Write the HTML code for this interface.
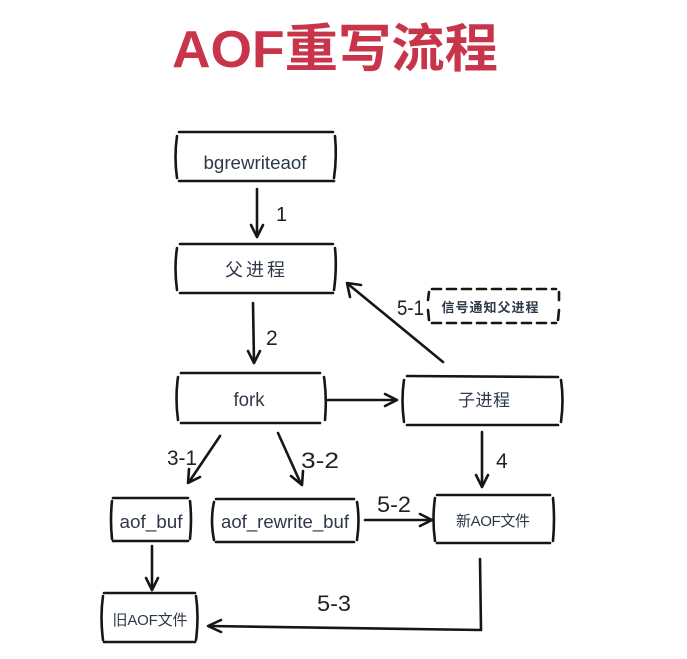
<!DOCTYPE html>
<html><head><meta charset="utf-8"><style>
html,body{margin:0;padding:0;background:#fff;}
svg{display:block;}
.t{font-family:"Liberation Sans","Noto Sans CJK SC",sans-serif;fill:#2e3848;}
.n{font-family:"Liberation Sans",sans-serif;fill:#222;}
</style></head><body>
<svg width="687" height="659" viewBox="0 0 687 659" xmlns="http://www.w3.org/2000/svg">
<text x="172" y="67" font-family="'Liberation Sans','Noto Sans CJK SC',sans-serif" font-weight="bold" font-size="52" fill="#c8344a" textLength="326" lengthAdjust="spacingAndGlyphs">AOF重写流程</text>
<g fill="none" stroke="#161616" stroke-width="2.6" stroke-linecap="round" stroke-linejoin="round">
<!-- bgrewriteaof box -->
<path d="M179 132 L333 132"/><path d="M179 181 L334 181"/>
<path d="M177 136 Q174 157 177 178"/><path d="M335 136 Q337 157 334 178"/>
<!-- 父进程 box -->
<path d="M180 244 L333 244"/><path d="M180 293 L333 293"/>
<path d="M177 248 Q174 268 177 290"/><path d="M335 248 Q337 268 334 290"/>
<!-- fork box -->
<path d="M181 373 L320 373"/><path d="M181 423 L320 423"/>
<path d="M178 377 Q175 398 178 420"/><path d="M324 377 Q327 398 325 420"/>
<!-- 子进程 box -->
<path d="M407 376 L558 377"/><path d="M407 425 L558 425"/>
<path d="M404 380 Q401 400 404 422"/><path d="M561 380 Q564 400 561 422"/>
<!-- aof_buf box -->
<path d="M113 498 L188 498"/><path d="M113 541 L188 541"/>
<path d="M112 501 Q110 520 112 539"/><path d="M190 501 Q192 520 190 539"/>
<!-- aof_rewrite_buf box -->
<path d="M216 499 L354 499"/><path d="M216 542 L354 542"/>
<path d="M214 502 Q210 520 214 540"/><path d="M357 502 Q360 520 357 540"/>
<!-- 新AOF文件 box -->
<path d="M437 495 L550 495"/><path d="M437 543 L550 543"/>
<path d="M435 498 Q432 519 435 541"/><path d="M553 498 Q555 519 553 541"/>
<!-- 旧AOF文件 box -->
<path d="M104 593 L195 593"/><path d="M104 642 L195 642"/>
<path d="M103 596 Q100 617 103 640"/><path d="M196 596 Q199 617 196 640"/>
<!-- dashed box -->
<path d="M432 289 L556 289" stroke-dasharray="9 6"/>
<path d="M432 323 L556 323" stroke-dasharray="9 6"/>
<path d="M429 292 L428 300 M428 310 L429 320"/>
<path d="M559 292 L559 300 M559 310 L558 320"/>
<!-- arrow 1 -->
<path d="M257 189 L257 236"/><path d="M251 225 L257 237 L263 225"/>
<!-- arrow 2 -->
<path d="M253 303 L254 362"/><path d="M248 351 L254 363 L260 351"/>
<!-- fork -> 子进程 -->
<path d="M328 400 L396 400"/><path d="M385 394 L397 400 L385 406"/>
<!-- 5-1 -->
<path d="M443 362 L348 284"/><path d="M350 297 L347 283 L361 285"/>
<!-- 3-1 -->
<path d="M220 436 L189 482"/><path d="M189 469 L188 483 L200 477"/>
<!-- 3-2 -->
<path d="M278 433 L301 484"/><path d="M291 476 L302 485 L303 471"/>
<!-- 4 -->
<path d="M482 432 L482 486"/><path d="M476 475 L482 487 L488 475"/>
<!-- 5-2 -->
<path d="M365 520 L431 520"/><path d="M420 514 L432 520 L420 526"/>
<!-- aof_buf -> 旧 -->
<path d="M152 546 L152 589"/><path d="M146 578 L152 590 L158 578"/>
<!-- 5-3 -->
<path d="M480 559 L481 630 L209 626"/><path d="M221 620 L208 626 L221 632"/>
</g>
<text class="t" x="255" y="169" font-size="18" text-anchor="middle" textLength="103" lengthAdjust="spacingAndGlyphs">bgrewriteaof</text>
<text class="t" x="255" y="276" font-size="18" text-anchor="middle" textLength="60" lengthAdjust="spacing">父进程</text>
<text class="t" x="249" y="406" font-size="19" text-anchor="middle" textLength="31" lengthAdjust="spacingAndGlyphs">fork</text>
<text class="t" x="484" y="406" font-size="17" text-anchor="middle" textLength="52" lengthAdjust="spacing">子进程</text>
<text class="t" x="490" y="312" font-size="13" font-weight="bold" text-anchor="middle" textLength="97" lengthAdjust="spacing">信号通知父进程</text>
<text class="t" x="151" y="528" font-size="18" text-anchor="middle" textLength="63" lengthAdjust="spacingAndGlyphs">aof_buf</text>
<text class="t" x="285" y="528" font-size="18" text-anchor="middle" textLength="128" lengthAdjust="spacingAndGlyphs">aof_rewrite_buf</text>
<text class="t" x="493" y="526" font-size="15" text-anchor="middle" textLength="74" lengthAdjust="spacing">新AOF文件</text>
<text class="t" x="150" y="625" font-size="15" text-anchor="middle" textLength="75" lengthAdjust="spacing">旧AOF文件</text>
<text class="n" x="276" y="221" font-size="20">1</text>
<text class="n" x="266" y="345" font-size="21">2</text>
<text class="n" x="167" y="465" font-size="21" textLength="30" lengthAdjust="spacingAndGlyphs">3-1</text>
<text class="n" x="301" y="468" font-size="22" textLength="38" lengthAdjust="spacingAndGlyphs">3-2</text>
<text class="n" x="496" y="468" font-size="21">4</text>
<text class="n" x="397" y="315" font-size="21" textLength="27" lengthAdjust="spacingAndGlyphs">5-1</text>
<text class="n" x="377" y="512" font-size="22" textLength="34" lengthAdjust="spacingAndGlyphs">5-2</text>
<text class="n" x="317" y="611" font-size="22" textLength="34" lengthAdjust="spacingAndGlyphs">5-3</text>
</svg>
</body></html>
